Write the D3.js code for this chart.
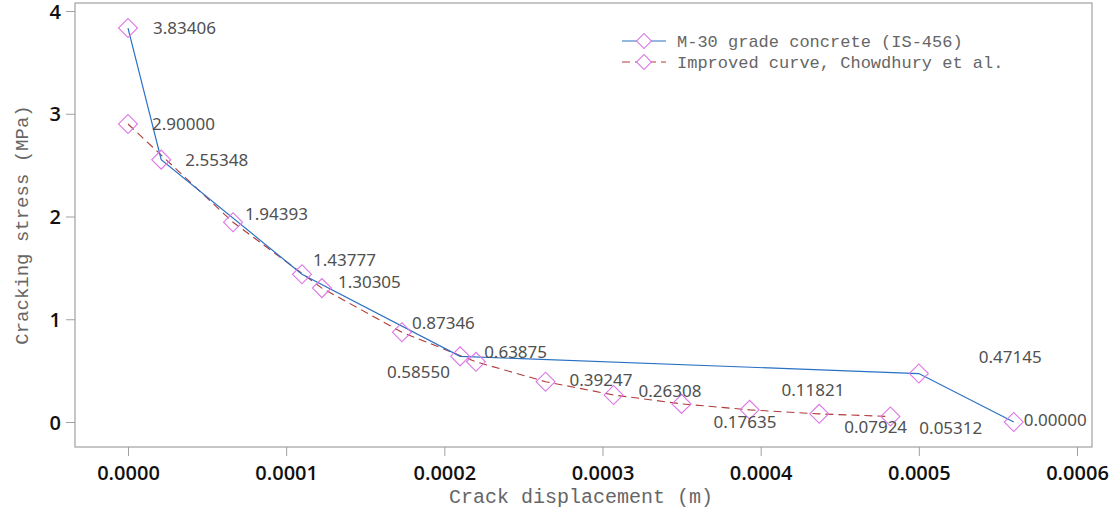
<!DOCTYPE html>
<html>
<head>
<meta charset="utf-8">
<script src="https://cdn.jsdelivr.net/npm/d3@7"></script>
<style>
  body { margin: 0; background: #fff; }
  svg { display: block; }
  .tick text { font-family: "Open Sans", "Noto Sans", sans-serif; font-weight: 600; fill: #111; }
  .lbl { font-family: "Noto Sans", "Open Sans", sans-serif; font-size: 17px; fill: #505050; }
  .mono { font-family: "Liberation Mono", "DejaVu Sans Mono", monospace; fill: #666; }
</style>
</head>
<body>
<svg id="chart" width="1117" height="516"></svg>
<script>
// M-30 grade concrete (IS-456)
let blue_x = [0, 0.000021, 0.00011, 0.00021, 0.0005, 0.00056];
let blue_y = [3.83406, 2.55348, 1.43777, 0.63875, 0.47145, 0.00000];

// Improved curve, Chowdhury et al.
let red_x = [0, 0.0000664, 0.0001226, 0.0001732, 0.00022, 0.000264, 0.000307, 0.00035, 0.000393, 0.000437, 0.000482];
let red_y = [2.90000, 1.94393, 1.30305, 0.87346, 0.58550, 0.39247, 0.26308, 0.17635, 0.11821, 0.07924, 0.05312];

let x_ticks = [0, 0.0001, 0.0002, 0.0003, 0.0004, 0.0005, 0.0006];
let y_ticks = [0, 1, 2, 3, 4];

let legend_names = ["M-30 grade concrete (IS-456)", "Improved curve, Chowdhury et al."];

// label offsets from the point (dx, dy, anchor)
let blue_lbl = [[25, 0, "start"], [24, 0, "start"], [11, -14, "start"], [24, -4, "start"], [60, -17, "start"], [10, -2, "start"]];
let red_lbl = [[24, 0, "start"], [12, -8, "start"], [16, -6, "start"], [10, -9, "start"], [-26, 10, "end"], [24, -2, "start"],
               [25, -4, "start"], [32, 18, "start"], [32, -20, "start"], [25, 13, "start"], [29, 12, "start"]];

let svg = d3.select("#chart");

let frame = {left: 75, right: 1092, top: 3, bottom: 447};

let x = d3.scaleLinear().domain([0, 0.0006]).range([128, 1077]);
let y = d3.scaleLinear().domain([0, 4]).range([422, 11]);

// frame
svg.append("rect")
    .attr("x", frame.left)
    .attr("y", frame.top)
    .attr("width", frame.right - frame.left)
    .attr("height", frame.bottom - frame.top)
    .attr("fill", "none")
    .attr("stroke", "#a0a0a0")
    .attr("stroke-width", 1.2);

let xAxis = svg.append("g")
    .attr("transform", `translate(0,${frame.bottom})`)
    .call(d3.axisBottom(x).tickValues(x_ticks).tickFormat(d3.format(".4f")).tickSize(9).tickSizeOuter(0));
xAxis.select(".domain").remove();
xAxis.selectAll(".tick line").attr("stroke", "#a0a0a0");
xAxis.selectAll(".tick text").attr("font-size", "20px").attr("dy", "1.05em");

let yAxis = svg.append("g")
    .attr("transform", `translate(${frame.left},0)`)
    .call(d3.axisLeft(y).tickValues(y_ticks).tickFormat(d3.format("d")).tickSize(9).tickSizeOuter(0));
yAxis.select(".domain").remove();
yAxis.selectAll(".tick line").attr("stroke", "#a0a0a0");
yAxis.selectAll(".tick text").attr("font-size", "20px").attr("x", -14).attr("dy", "0.36em");

// axis titles
svg.append("text")
    .attr("class", "mono")
    .attr("x", 581)
    .attr("y", 503)
    .attr("text-anchor", "middle")
    .attr("font-size", "20px")
    .text("Crack displacement (m)");

svg.append("text")
    .attr("class", "mono")
    .attr("transform", "translate(28,225) rotate(-90)")
    .attr("text-anchor", "middle")
    .attr("font-size", "19px")
    .text("Cracking stress (MPa)");

let blue = blue_x.map((d, i) => ({x: d, y: blue_y[i], o: blue_lbl[i]}));
let red = red_x.map((d, i) => ({x: d, y: red_y[i], o: red_lbl[i]}));

let line = d3.line().x(d => x(d.x)).y(d => y(d.y));

svg.append("path")
    .datum(red)
    .attr("d", line)
    .attr("fill", "none")
    .attr("stroke", "#b23a3a")
    .attr("stroke-width", 1.1)
    .attr("stroke-dasharray", "8,5");

svg.append("path")
    .datum(blue)
    .attr("d", line)
    .attr("fill", "none")
    .attr("stroke", "#2a70c4")
    .attr("stroke-width", 1.2);

let diamond = d3.symbol().type(d3.symbolSquare).size(180);

[red, blue].forEach(series => {
    svg.append("g")
        .selectAll("path")
        .data(series)
        .join("path")
        .attr("d", diamond)
        .attr("transform", d => `translate(${x(d.x)},${y(d.y)}) rotate(45)`)
        .attr("fill", "none")
        .attr("stroke", "#dd77e6")
        .attr("stroke-width", 1.1);

    svg.append("g")
        .selectAll("text")
        .data(series)
        .join("text")
        .attr("class", "lbl")
        .attr("x", d => x(d.x) + d.o[0])
        .attr("y", d => y(d.y) + d.o[1])
        .attr("dy", "0.35em")
        .attr("text-anchor", d => d.o[2])
        .text(d => d.y.toFixed(5));
});

// legend
let legend = svg.append("g");
let legend_style = [{stroke: "#2a70c4", dash: null}, {stroke: "#b23a3a", dash: "8,5"}];
legend.selectAll("g")
    .data(legend_names)
    .join(function(enter){
        let g = enter.append("g")
            .attr("transform", (d, i) => `translate(0,${41 + i * 21})`);
        g.append("line")
            .attr("x1", 622).attr("x2", 666)
            .attr("stroke", (d, i) => legend_style[i].stroke)
            .attr("stroke-width", 1.2)
            .attr("stroke-dasharray", (d, i) => legend_style[i].dash);
        g.append("path")
            .attr("d", d3.symbol().type(d3.symbolSquare).size(110))
            .attr("transform", "translate(644,0) rotate(45)")
            .attr("fill", "#fff")
            .attr("stroke", "#dd77e6")
            .attr("stroke-width", 1.1);
        g.append("text")
            .attr("class", "mono")
            .attr("x", 677)
            .attr("dy", "0.35em")
            .attr("font-size", "17px")
            .attr("fill", "#444")
            .text(d => d);
        return g;
    });
</script>
</body>
</html>
